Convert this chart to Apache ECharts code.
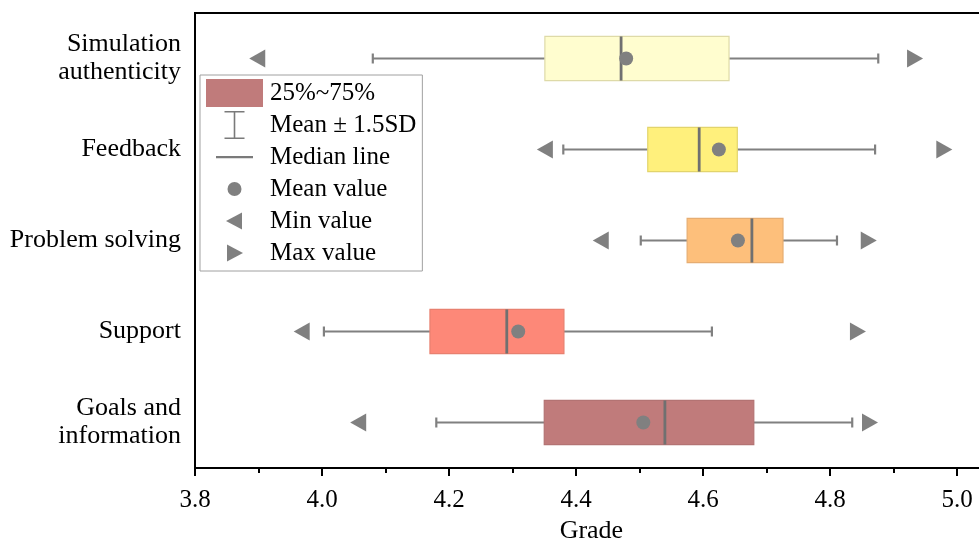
<!DOCTYPE html>
<html><head><meta charset="utf-8">
<script src="https://cdn.jsdelivr.net/npm/echarts@6/dist/echarts.min.js"></script>
<style>html,body{margin:0;padding:0;background:#fff}#c{width:979px;height:539px}</style>
</head><body><div id="c"></div>
<script>
// ---- data (bottom to top on the category axis) ----
const categories = ['Goals and\ninformation', 'Support', 'Problem solving', 'Feedback', 'Simulation\nauthenticity'];
const q1 = [4.350, 4.170, 4.575, 4.513, 4.351];
const median = [4.540, 4.291, 4.677, 4.594, 4.471];
const q3 = [4.680, 4.381, 4.726, 4.654, 4.641];
const mean = [4.506, 4.309, 4.655, 4.625, 4.479];
const whiskerLow = [4.180, 4.003, 4.502, 4.380, 4.080];
const whiskerHigh = [4.835, 4.614, 4.811, 4.871, 4.876];
const minValue = [4.057, 3.968, 4.439, 4.351, 3.898];
const maxValue = [4.863, 4.844, 4.861, 4.980, 4.934];
const xMin = 3.8, xMax = 5.08, xStep = 0.2;
const legendNames = ['25%~75%', 'Mean \u00b1 1.5SD', 'Median line', 'Mean value', 'Min value', 'Max value'];

// ---- styles ----
const boxFill = ['#c07b7b', '#fd8878', '#fdbf7b', '#fff07c', '#fffdcf'];
const boxStroke = ['#b37373', '#e8806f', '#e6ad72', '#e2d46c', '#dedaa8'];
const gray = '#808080';
const FONT = '"Liberation Serif", "Times New Roman", serif';

const chart = echarts.init(document.getElementById('c'), null, {renderer: 'canvas'});

const boxData = categories.map((c, i) => [q1[i], q3[i], i]);
const whiskerData = categories.map((c, i) => [whiskerLow[i], q1[i], q3[i], whiskerHigh[i], i]);
const medianData = categories.map((c, i) => [median[i], i]);
const meanData = categories.map((c, i) => [mean[i], i]);
const minData = categories.map((c, i) => [minValue[i], i]);
const maxData = categories.map((c, i) => [maxValue[i], i]);

const A = 'M0,0M57,28';
const icons = [
  'path://M0,0L57,0L57,28L0,28Z',
  'path://' + A + 'M18.5,0L38.5,0L38.5,1.6L29.3,1.6L29.3,26.4L38.5,26.4L38.5,28L18.5,28L18.5,26.4L27.7,26.4L27.7,1.6L18.5,1.6Z',
  'path://' + A + 'M10,13L47,13L47,15.2L10,15.2Z',
  'path://' + A + 'M21.5,14A7,7,0,1,1,35.5,14A7,7,0,1,1,21.5,14Z',
  'path://' + A + 'M20,14L36,5.5L36,22.5Z',
  'path://' + A + 'M37,14L21,5.5L21,22.5Z'
];
const legendColors = ['#c07b7b', '#7a7a7a', '#7a7a7a', gray, gray, gray];

const option = {
  backgroundColor: '#fff',
  animation: false,
  grid: {left: 195, top: 13, bottom: 71, width: (xMax - xMin) * 635,
         outerBoundsMode: 'none', containLabel: false,
         show: true, borderColor: '#000', borderWidth: 2},
  legend: {
    orient: 'vertical', left: 200, top: 75,
    padding: [4, 6, 4, 6], itemGap: 4, itemWidth: 57, itemHeight: 28,
    symbolKeepAspect: false,
    borderColor: '#a0a0a0', borderWidth: 1, backgroundColor: '#fff',
    itemStyle: {borderWidth: 0},
    textStyle: {fontFamily: FONT, fontSize: 25, color: '#000', lineHeight: 28, padding: [0, 0, 0, 2]},
    selectedMode: false,
    data: legendNames.map((n, k) => ({name: n, icon: icons[k], itemStyle: {color: legendColors[k], borderWidth: 0}}))
  },
  xAxis: {
    type: 'value', min: xMin, max: xMax, interval: xStep,
    name: 'Grade', nameLocation: 'middle', nameGap: 48,
    nameTextStyle: {fontFamily: FONT, fontSize: 26, color: '#000', padding: [0, 20, 0, 0]},
    axisLine: {show: true, lineStyle: {color: '#000', width: 2}},
    axisTick: {show: true, inside: false, length: 8, lineStyle: {color: '#000', width: 2}},
    minorTick: {show: true, splitNumber: 2, length: 5, lineStyle: {color: '#000', width: 2}},
    splitLine: {show: false}, minorSplitLine: {show: false},
    axisLabel: {fontFamily: FONT, fontSize: 25, color: '#000', margin: 20, showMaxLabel: false,
                formatter: v => (Math.abs(v - xMax) < 1e-9 ? '' : v.toFixed(1))}
  },
  yAxis: {
    type: 'category', data: categories,
    axisLine: {show: true, lineStyle: {color: '#000', width: 2}},
    axisTick: {show: false},
    splitLine: {show: false},
    axisLabel: {fontFamily: FONT, fontSize: 26, color: '#000', margin: 14, lineHeight: 28}
  },
  series: [
    {
      name: 'Mean \u00b1 1.5SD', type: 'custom', itemStyle: {color: gray},
      encode: {x: [0, 3], y: 4}, data: whiskerData, z: 2,
      renderItem(params, api) {
        const i = api.value(4);
        const p0 = api.coord([api.value(0), i]);
        const p1 = api.coord([api.value(1), i]);
        const p2 = api.coord([api.value(2), i]);
        const p3 = api.coord([api.value(3), i]);
        const y = p0[1], c = 5;
        const st = {stroke: gray, lineWidth: 2.2};
        return {type: 'group', children: [
          {type: 'line', shape: {x1: p0[0], y1: y, x2: p1[0], y2: y}, style: st},
          {type: 'line', shape: {x1: p2[0], y1: y, x2: p3[0], y2: y}, style: st},
          {type: 'line', shape: {x1: p0[0], y1: y - c, x2: p0[0], y2: y + c}, style: st},
          {type: 'line', shape: {x1: p3[0], y1: y - c, x2: p3[0], y2: y + c}, style: st}
        ]};
      }
    },
    {
      name: '25%~75%', type: 'custom', itemStyle: {color: '#c07b7b'},
      encode: {x: [0, 1], y: 2}, data: boxData, z: 3,
      renderItem(params, api) {
        const i = api.value(2);
        const a = api.coord([api.value(0), i]);
        const b = api.coord([api.value(1), i]);
        const h = api.size([0, 1])[1] * 0.485;
        return {type: 'rect', shape: {x: a[0], y: a[1] - h / 2, width: b[0] - a[0], height: h},
                style: {fill: boxFill[i], stroke: boxStroke[i], lineWidth: 1.2}};
      }
    },
    {
      name: 'Median line', type: 'custom', itemStyle: {color: '#707070'},
      encode: {x: 0, y: 1}, data: medianData, z: 4,
      renderItem(params, api) {
        const i = api.value(1);
        const p = api.coord([api.value(0), i]);
        const h = api.size([0, 1])[1] * 0.485;
        return {type: 'line', shape: {x1: p[0], y1: p[1] - h / 2, x2: p[0], y2: p[1] + h / 2},
                style: {stroke: '#707070', lineWidth: 2.8}};
      }
    },
    {
      name: 'Mean value', type: 'scatter', data: meanData, z: 5,
      symbol: 'circle', symbolSize: 14, itemStyle: {color: gray, opacity: 1}
    },
    {
      name: 'Min value', type: 'scatter', data: minData, z: 5,
      symbol: 'triangle', symbolRotate: 90, symbolSize: [18, 16], itemStyle: {color: gray, opacity: 1}
    },
    {
      name: 'Max value', type: 'scatter', data: maxData, z: 5,
      symbol: 'triangle', symbolRotate: -90, symbolSize: [18, 16], itemStyle: {color: gray, opacity: 1}
    }
  ]
};
chart.setOption(option);
</script>
</body></html>
